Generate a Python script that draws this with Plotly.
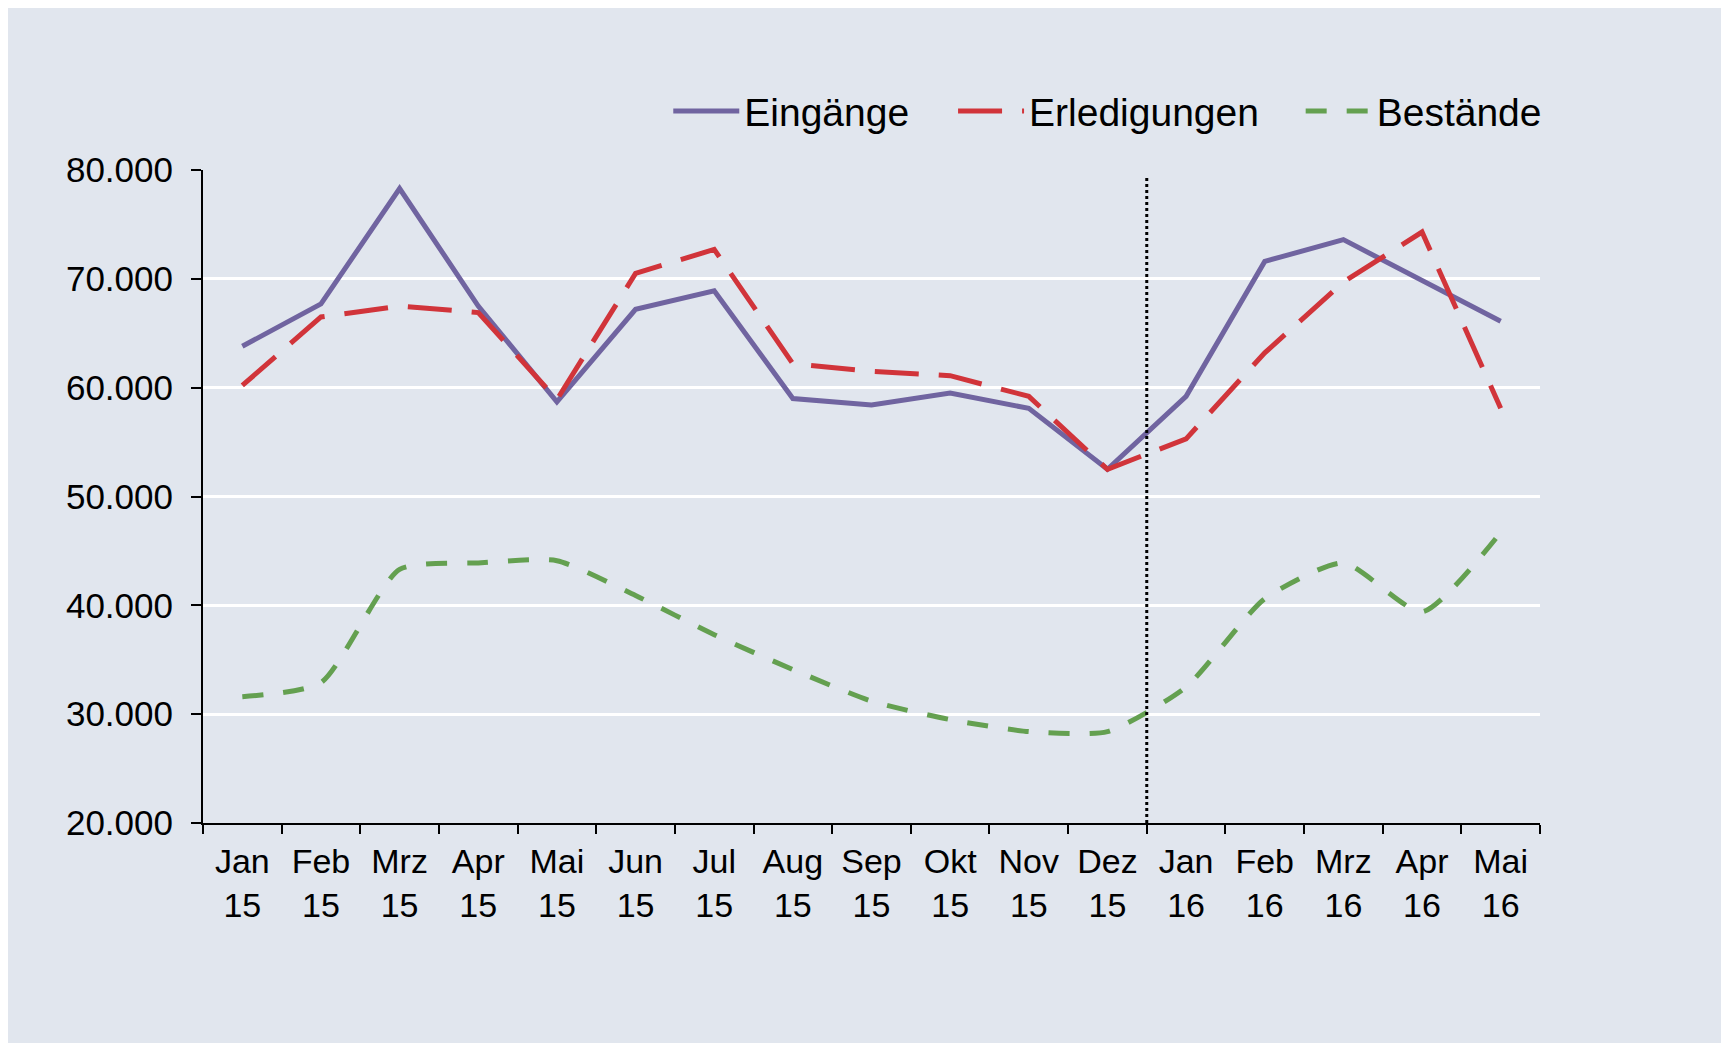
import plotly.graph_objects as go

# Kategorien (Monat / Jahr)
monate = ["Jan", "Feb", "Mrz", "Apr", "Mai", "Jun", "Jul", "Aug", "Sep", "Okt", "Nov", "Dez",
          "Jan", "Feb", "Mrz", "Apr", "Mai"]
jahre = ["15"] * 12 + ["16"] * 5
kategorien = [f"{m}<br>{j}" for m, j in zip(monate, jahre)]

eingaenge = [63800, 67700, 78300, 67500, 58700, 67200, 68900, 59000, 58400, 59500, 58100, 52500,
             59200, 71600, 73600, 69900, 66100]
erledigungen = [60200, 66500, 67500, 66900, 58900, 70500, 72700, 62200, 61500, 61100, 59200, 52500,
                55300, 63200, 69700, 74300, 58100]
bestaende = [31600, 32900, 43300, 43900, 44100, 40900, 37300, 34100, 31200, 29500, 28400, 28400,
             32500, 40600, 43900, 39400, 46700]

y_ticks = [20000, 30000, 40000, 50000, 60000, 70000, 80000]

BG = "#E1E6EE"
FONT = "Liberation Sans, Arial, sans-serif"

fig = go.Figure()

fig.add_trace(go.Scatter(
    x=kategorien, y=eingaenge, name="Eingänge", mode="lines", legend="legend",
    line=dict(color="#7064A0", width=5)
))
fig.add_trace(go.Scatter(
    x=kategorien, y=erledigungen, name="Erledigungen", mode="lines", legend="legend2",
    line=dict(color="#D1343A", width=5, dash="44px,20px")
))
fig.add_trace(go.Scatter(
    x=kategorien, y=bestaende, name="Bestände", mode="lines", legend="legend3",
    line=dict(color="#64A050", width=5, dash="21px,20px", shape="spline", smoothing=0.6)
))

# Trennlinie zwischen 2015 und 2016
fig.add_shape(type="line", xref="x", yref="y", x0=11.5, x1=11.5, y0=20000, y1=79500,
              line=dict(color="black", width=3, dash="dot"))

leg = dict(orientation="h", xanchor="left", yanchor="middle", y=1.09,
           font=dict(size=39), bgcolor="rgba(0,0,0,0)", itemwidth=66)

fig.update_layout(
    width=1729, height=1043,
    paper_bgcolor=BG, plot_bgcolor=BG,
    margin=dict(l=195, r=197, t=162, b=228),
    separators=",.",
    font=dict(family=FONT, color="black", size=34),
    showlegend=True,
    legend=dict(leg, x=0.348),
    legend2=dict(leg, x=0.561),
    legend3=dict(leg, x=0.821),
)

fig.update_xaxes(
    type="category", range=[-0.5, 16.5], tickson="boundaries", ticks="outside",
    ticklen=9, tickwidth=2, tickcolor="black", showline=True, linecolor="black",
    linewidth=2, showgrid=False, tickfont=dict(size=34), ticklabelstandoff=7,
)
fig.update_yaxes(
    range=[20000, 80000], tickvals=y_ticks, tickformat=",d",
    ticks="outside", ticklen=10, tickwidth=2, tickcolor="black",
    showline=True, linecolor="black", linewidth=2,
    showgrid=True, gridcolor="white", gridwidth=3, zeroline=False,
    tickfont=dict(size=35), ticklabelstandoff=11,
)

fig.write_html("out.html")
